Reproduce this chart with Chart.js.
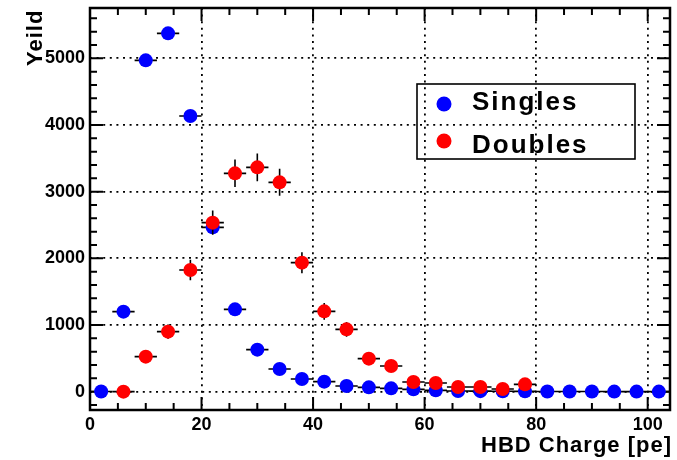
<!DOCTYPE html>
<html>
<head>
<meta charset="utf-8">
<script src="https://cdn.jsdelivr.net/npm/chart.js@4.4.1/dist/chart.umd.min.js"></script>
<style>
  html, body { margin: 0; padding: 0; background: #fff; }
  #wrap { width: 677px; height: 460px; }
</style>
</head>
<body>
<div id="wrap"><canvas id="plot" width="677" height="460"></canvas></div>
<script>
// bin centres of the HBD charge histogram (4 pe wide bins)
const binCenters = [2, 6, 10, 14, 18, 22, 26, 30, 34, 38, 42, 46, 50, 54, 58, 62, 66, 70, 74, 78, 82, 86, 90, 94, 98, 102];
const binHalfWidth = 2;

const singles    = [3, 1200, 4970, 5375, 4135, 2465, 1235, 630, 340, 190, 150, 85, 65, 50, 35, 20, 10, 8, 6, 5, 3, 2, 2, 1, 1, 1];
const singlesErr = [2, 35, 70, 73, 64, 50, 35, 25, 18, 14, 12, 9, 8, 7, 6, 4, 3, 3, 2, 2, 2, 1, 1, 1, 1, 1];
const doubles    = [null, 0, 525, 900, 1825, 2535, 3275, 3365, 3140, 1935, 1205, 935, 495, 385, 145, 130, 70, 70, 40, 110, null, null, null, null, null, null];
const doublesErr = [null, 0, 82, 108, 154, 181, 206, 209, 202, 158, 125, 110, 80, 71, 44, 42, 29, 29, 21, 38, null, null, null, null, null, null];

const seriesNames = ['Singles', 'Doubles'];
const seriesColors = ['#0000ff', '#ff0000'];

const xTicks = [0, 20, 40, 60, 80, 100];
const yTicks = [0, 1000, 2000, 3000, 4000, 5000];
const xMinorStep = 5;
const yMinorStep = 200;

const FONT = "'Liberation Sans', Arial, Helvetica, sans-serif";

function toPoints(vals) {
  const pts = [];
  vals.forEach((v, i) => { if (v !== null) pts.push({ x: binCenters[i], y: v }); });
  return pts;
}
function toErrors(vals, errs) {
  const out = [];
  vals.forEach((v, i) => { if (v !== null) out.push(errs[i]); });
  return out;
}

// ROOT-like frame, ticks, error bars, legend and axis titles
const rootStyle = {
  id: 'rootStyle',
  beforeDatasetsDraw(chart) {
    const { ctx, chartArea: a, scales: { x, y } } = chart;
    ctx.save();
    ctx.strokeStyle = '#000';
    ctx.lineWidth = 2;
    ctx.beginPath();
    for (let v = 0; v <= x.max + 1e-9; v += xMinorStep) {
      const px = x.getPixelForValue(v);
      const len = v % 20 === 0 ? 13 : 7;
      ctx.moveTo(px, a.bottom); ctx.lineTo(px, a.bottom - len);
      ctx.moveTo(px, a.top); ctx.lineTo(px, a.top + len);
    }
    for (let v = Math.ceil(y.min / yMinorStep) * yMinorStep; v <= y.max; v += yMinorStep) {
      const py = y.getPixelForValue(v);
      const len = v % 1000 === 0 ? 13 : 7;
      ctx.moveTo(a.left, py); ctx.lineTo(a.left + len, py);
      ctx.moveTo(a.right, py); ctx.lineTo(a.right - len, py);
    }
    ctx.stroke();
    ctx.lineWidth = 2.5;
    ctx.strokeRect(a.left, a.top, a.right - a.left, a.bottom - a.top);
    ctx.restore();
  },
  beforeDatasetDraw(chart, args) {
    const ds = chart.data.datasets[args.index];
    const { ctx, scales: { x, y } } = chart;
    ctx.save();
    ctx.strokeStyle = '#000';
    ctx.lineWidth = 1.6;
    ctx.beginPath();
    ds.data.forEach((p, i) => {
      const px = x.getPixelForValue(p.x);
      const py = y.getPixelForValue(p.y);
      ctx.moveTo(x.getPixelForValue(p.x - binHalfWidth), py);
      ctx.lineTo(x.getPixelForValue(p.x + binHalfWidth), py);
      const e = ds.errors[i];
      if (e) {
        ctx.moveTo(px, y.getPixelForValue(p.y - e));
        ctx.lineTo(px, y.getPixelForValue(p.y + e));
      }
    });
    ctx.stroke();
    ctx.restore();
  },
  afterDraw(chart) {
    const { ctx, chartArea: a } = chart;
    ctx.save();
    // legend
    ctx.strokeStyle = '#000';
    ctx.lineWidth = 1.6;
    ctx.strokeRect(417, 84, 218, 75);
    const rows = [{ my: 104, ty: 110 }, { my: 141, ty: 153 }];
    ctx.font = 'bold 26px ' + FONT;
    ctx.letterSpacing = '2px';
    ctx.textAlign = 'left';
    ctx.textBaseline = 'alphabetic';
    rows.forEach((r, i) => {
      ctx.fillStyle = seriesColors[i];
      ctx.beginPath();
      ctx.arc(444, r.my, 7.5, 0, Math.PI * 2);
      ctx.fill();
      ctx.fillStyle = '#000';
      ctx.fillText(seriesNames[i], 472, r.ty);
    });
    // axis titles
    ctx.font = 'bold 22px ' + FONT;
    ctx.letterSpacing = '1px';
    ctx.textAlign = 'right';
    ctx.fillText('HBD Charge [pe]', a.right + 2, 452);
    ctx.translate(42, 2);
    ctx.rotate(-Math.PI / 2);
    ctx.textAlign = 'left';
    ctx.fillText('Yeild', -64, 0);
    ctx.restore();
  }
};

Chart.defaults.font.family = FONT;

new Chart(document.getElementById('plot'), {
  type: 'scatter',
  data: {
    datasets: [
      {
        label: seriesNames[0],
        data: toPoints(singles),
        errors: toErrors(singles, singlesErr),
        backgroundColor: seriesColors[0],
        borderWidth: 0,
        pointRadius: 7,
        order: 1
      },
      {
        label: seriesNames[1],
        data: toPoints(doubles),
        errors: toErrors(doubles, doublesErr),
        backgroundColor: seriesColors[1],
        borderWidth: 0,
        pointRadius: 7,
        order: 0
      }
    ]
  },
  options: {
    responsive: false,
    animation: false,
    events: [],
    layout: { padding: { top: 8, right: 7, left: 0, bottom: 0 } },
    plugins: { legend: { display: false }, tooltip: { enabled: false } },
    scales: {
      x: {
        type: 'linear',
        min: 0,
        max: 104,
        afterBuildTicks: s => { s.ticks = xTicks.map(v => ({ value: v })); },
        afterFit: s => { s.height = 50; s.paddingLeft = 0; s.paddingRight = 0; },
        ticks: { color: '#000', font: { size: 18, weight: 'bold' }, padding: 4, maxRotation: 0, callback: v => String(v) },
        grid: { color: '#000', lineWidth: 1.8, drawTicks: false },
        border: { display: false, dash: [2, 4.6] }
      },
      y: {
        type: 'linear',
        min: -275,
        max: 5755,
        afterBuildTicks: s => { s.ticks = yTicks.map(v => ({ value: v })); },
        afterFit: s => { s.width = 90; s.paddingTop = 0; s.paddingBottom = 0; },
        ticks: { color: '#000', font: { size: 18, weight: 'bold' }, padding: 5, callback: v => String(v) },
        grid: { color: '#000', lineWidth: 1.8, drawTicks: false },
        border: { display: false, dash: [2, 4.6] }
      }
    }
  },
  plugins: [rootStyle]
});
</script>
</body>
</html>
